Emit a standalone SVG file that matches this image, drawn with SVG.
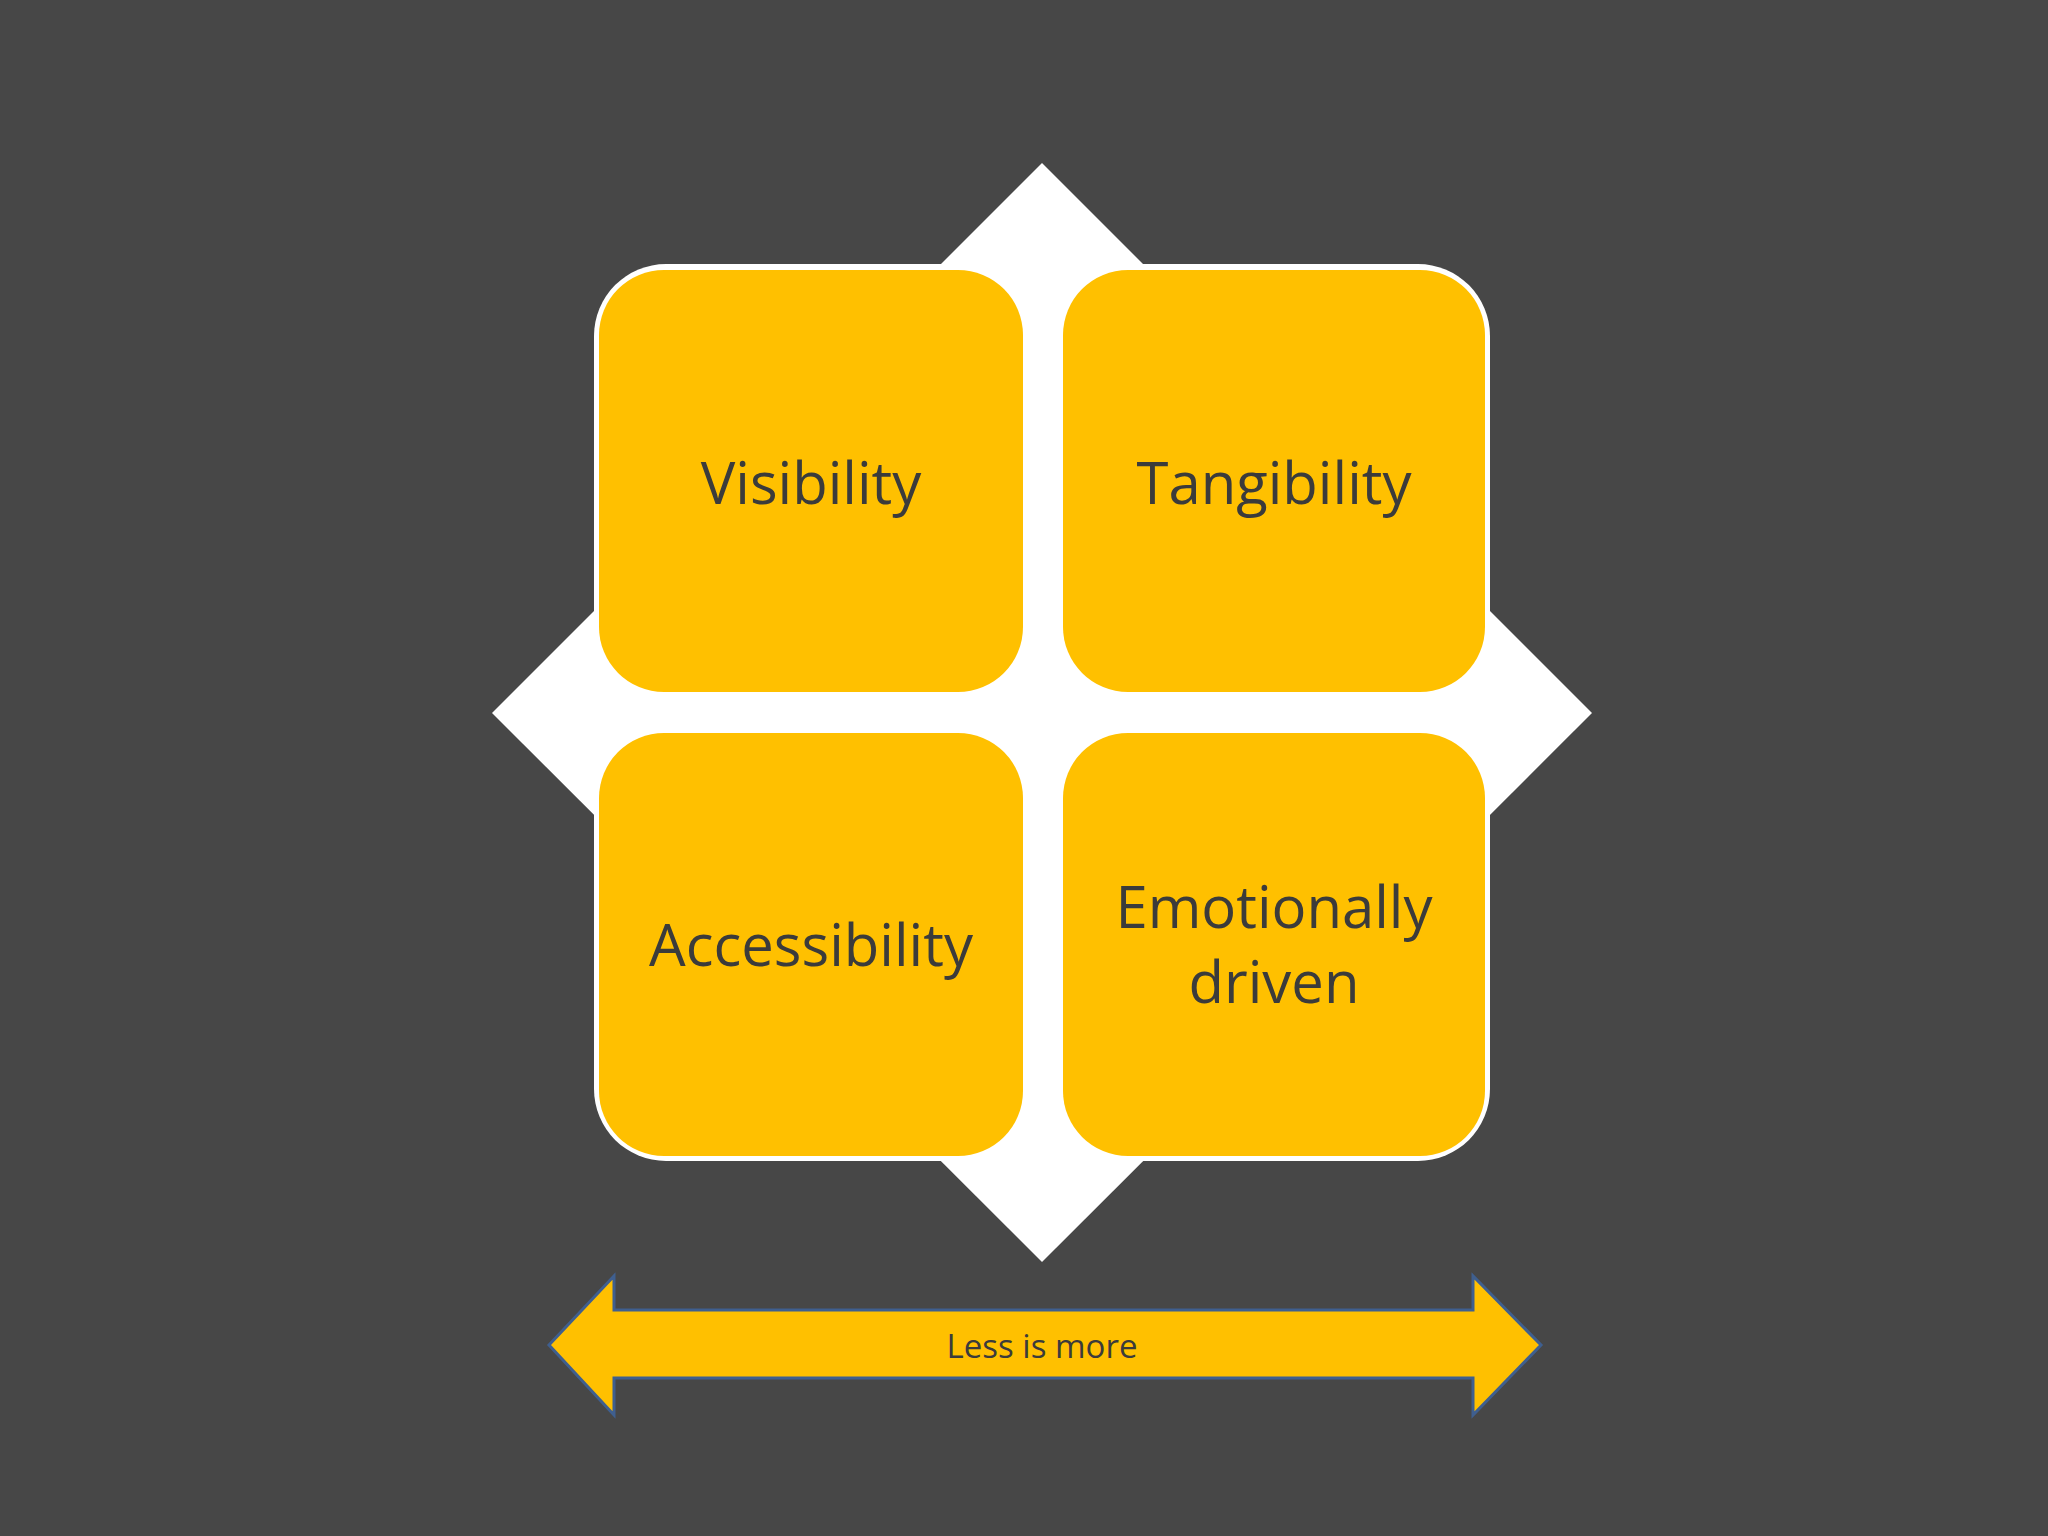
<svg xmlns="http://www.w3.org/2000/svg" width="2048" height="1536" viewBox="0 0 2048 1536">
<style>
.box{fill:#FFC000}
.t{font-family:"Open Sans","Noto Sans",sans-serif;fill:#3b3b3b;text-anchor:middle;dominant-baseline:central}
.big{font-size:58px}
</style>
<rect width="2048" height="1536" fill="#474747"/>
<g id="background">
<polygon points="1042,163 1592,713 1042,1262 492,713" fill="#fff"/>
<rect x="594" y="264" width="896" height="897" rx="72" fill="#fff"/>
</g>
<g id="visibility"><rect class="box" x="599" y="270" width="424" height="422" rx="65"/><text class="t big" x="811" y="481">Visibility</text></g>
<g id="tangibility"><rect class="box" x="1063" y="270" width="422" height="422" rx="65"/><text class="t big" x="1274" y="481">Tangibility</text></g>
<g id="accessibility"><rect class="box" x="599" y="733" width="424" height="423" rx="65"/><text class="t big" x="811" y="943">Accessibility</text></g>
<g id="emotionally"><rect class="box" x="1063" y="733" width="422" height="423" rx="65"/><text class="t big" x="1274" y="905">Emotionally</text><text class="t big" x="1274" y="980">driven</text></g>
<g id="connectors">
<polygon points="549,1345 614,1276 614,1310 1473,1310 1473,1276 1541,1345 1473,1415 1473,1378 614,1378 614,1415" fill="#FFC000" stroke="#3f5f8f" stroke-width="3"/>
<text class="t" x="1042" y="1345" font-size="33">Less is more</text>
</g>
</svg>
